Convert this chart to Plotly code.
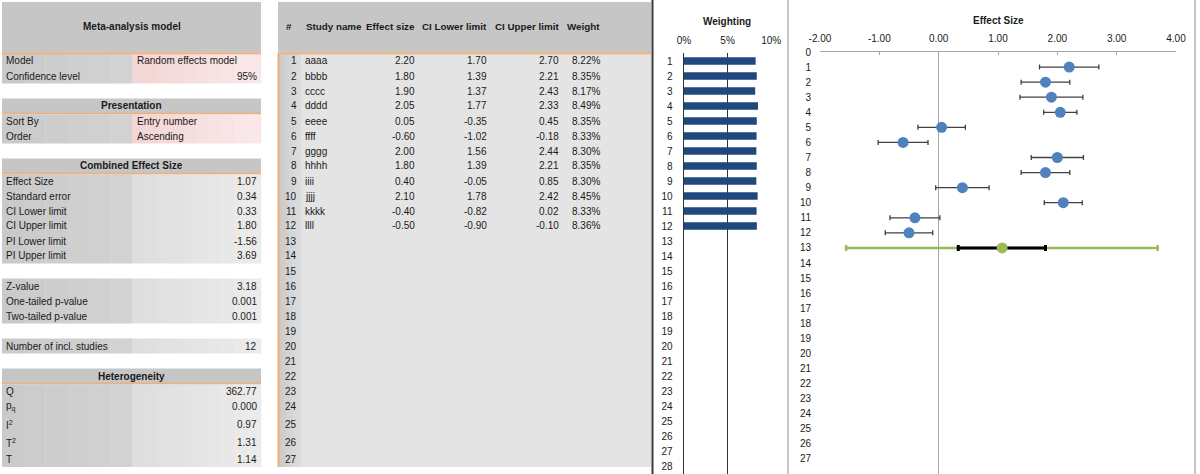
import plotly.graph_objects as go

W, H = 1200, 474

# ---------------- data ----------------
study_ids = list(range(1, 13))
study_names = ["aaaa", "bbbb", "cccc", "dddd", "eeee", "ffff",
               "gggg", "hhhh", "iiii", "jjjj", "kkkk", "llll"]
effect_size = [2.20, 1.80, 1.90, 2.05, 0.05, -0.60, 2.00, 1.80, 0.40, 2.10, -0.40, -0.50]
ci_lower = [1.70, 1.39, 1.37, 1.77, -0.35, -1.02, 1.56, 1.39, -0.05, 1.78, -0.82, -0.90]
ci_upper = [2.70, 2.21, 2.43, 2.33, 0.45, -0.18, 2.44, 2.21, 0.85, 2.42, 0.02, -0.10]
weight_pct = [8.22, 8.35, 8.17, 8.49, 8.35, 8.33, 8.30, 8.35, 8.30, 8.45, 8.33, 8.36]

combined_row = 13
combined_es = 1.07
combined_ci_lower = 0.33
combined_ci_upper = 1.80
combined_pi_lower = -1.56
combined_pi_upper = 3.69

model_labels = ["Model", "Confidence level"]
model_values = ["Random effects model", "95%"]
presentation_labels = ["Sort By", "Order"]
presentation_values = ["Entry number", "Ascending"]
combined_labels = ["Effect Size", "Standard error", "CI Lower limit", "CI Upper limit",
                   "PI Lower limit", "PI Upper limit"]
combined_values = ["1.07", "0.34", "0.33", "1.80", "-1.56", "3.69"]
test_labels = ["Z-value", "One-tailed p-value", "Two-tailed p-value"]
test_values = ["3.18", "0.001", "0.001"]
count_labels = ["Number of incl. studies"]
count_values = ["12"]
het_labels = ["Q", "p<sub>q</sub>", "I<sup>2</sup>", "T<sup>2</sup>", "T"]
het_values = ["362.77", "0.000", "0.97", "1.31", "1.14"]

table_headers = ["#", "Study name", "Effect size", "CI Lower limit", "CI Upper limit", "Weight"]
table_row_numbers = list(range(1, 28))
weight_rows = list(range(1, 29))
forest_rows = list(range(0, 28))
weight_ticks = [0, 0.05, 0.10]
weight_tick_text = ["0%", "5%", "10%"]
effect_ticks = [-2, -1, 0, 1, 2, 3, 4]
effect_tick_text = ["-2.00", "-1.00", "0.00", "1.00", "2.00", "3.00", "4.00"]

# ---------------- helpers ----------------
FONT = "Liberation Sans"
FS = 10
TXT = "#1a1a1a"


def px(x):
    return x / W


def py(y):
    return 1 - y / H


shapes = []
annotations = []


def rect(x0, y0, x1, y1, color):
    shapes.append(dict(type="rect", xref="paper", yref="paper",
                       x0=px(x0), x1=px(x1), y0=py(y1), y1=py(y0),
                       fillcolor=color, line=dict(width=0), layer="below"))


def hex2rgb(c):
    c = c.lstrip("#")
    return tuple(int(c[i:i + 2], 16) for i in (0, 2, 4))


def grad(x0, y0, x1, y1, c0, c1, n=10):
    a, b = hex2rgb(c0), hex2rgb(c1)
    step = (x1 - x0) / n
    for i in range(n):
        t = i / (n - 1) if n > 1 else 0
        col = "rgb(%d,%d,%d)" % tuple(round(a[k] + (b[k] - a[k]) * t) for k in range(3))
        rect(x0 + i * step, y0, x0 + (i + 1) * step + 0.3, y1, col)


def line(x0, y0, x1, y1, color, width):
    shapes.append(dict(type="line", xref="paper", yref="paper",
                       x0=px(x0), x1=px(x1), y0=py(y0), y1=py(y1),
                       line=dict(color=color, width=width), layer="above"))


def text(x, y, s, anchor="left", bold=False, size=FS, color=TXT):
    if bold:
        s = "<b>" + s + "</b>"
    annotations.append(dict(x=px(x), y=py(y), xref="paper", yref="paper",
                            text=s, showarrow=False, xanchor=anchor, yanchor="middle",
                            font=dict(family=FONT, size=size, color=color)))


# spreadsheet row geometry
row_heights = [15] * 24 + [18.5, 18, 17]
row_top = [53.5]
for h in row_heights[:-1]:
    row_top.append(row_top[-1] + h)
row_bottom = [t + h for t, h in zip(row_top, row_heights)]
row_text_y = [b - 7.5 for b in row_bottom]

ORANGE = "#F1B07A"
HEAD = "#c6c6c6"

# ---------------- left panel ----------------
LX0, LX1, LXM = 2, 261, 132

rect(LX0, 2, LX1, 52.5, HEAD)
line(LX0, 53.3, LX1, 53.3, ORANGE, 2)
text((LX0 + LX1) / 2, 27, "Meta-analysis model", "center", bold=True)

sections = [
    (None, 1, model_labels, model_values, "pink", ["left", "right"]),
    ("Presentation", 5, presentation_labels, presentation_values, "pink", ["left", "left"]),
    ("Combined Effect Size", 9, combined_labels, combined_values, "gray", None),
    (None, 16, test_labels, test_values, "gray", None),
    (None, 20, count_labels, count_values, "gray", None),
    ("Heterogeneity", 23, het_labels, het_values, "gray", None),
]

for header, start, labels, values, style, aligns in sections:
    i0 = start - 1
    i1 = i0 + len(labels) - 1
    if header:
        hi = i0 - 1
        rect(LX0, row_top[hi], LX1, row_bottom[hi] - 0.5, HEAD)
        line(LX0, row_bottom[hi], LX1, row_bottom[hi], ORANGE, 1.6)
        text((LX0 + LX1) / 2, row_text_y[hi], header, "center", bold=True)
    top = row_top[i0] + (0.8 if header else 0)
    grad(LX0, top, LXM, row_bottom[i1], "#cacaca", "#d2d2d2", 6)
    if style == "pink":
        grad(LXM, top, LX1, row_bottom[i1], "#f3d6d6", "#fae8e8", 10)
    else:
        grad(LXM, top, LX1, row_bottom[i1], "#dedede", "#ebebeb", 10)
    for k, (lab, val) in enumerate(zip(labels, values)):
        y = row_text_y[i0 + k]
        text(4, y, lab, "left")
        al = aligns[k] if aligns else "right"
        if al == "left":
            text(135, y, val, "left")
        else:
            text(259, y, val, "right")

# ---------------- middle table ----------------
MX0, MX1 = 278, 651
rect(MX0, 2, MX1, 52.5, HEAD)
rect(MX0, 53.5, MX1, row_bottom[-1], "#e4e4e4")
grad(MX0, 53.5, 301, row_bottom[-1], "#cbcbcb", "#dcdcdc", 6)
line(MX0, 53.3, MX1, 53.3, ORANGE, 2)
line(MX0 + 0.5, 53.3, MX0 + 0.5, row_bottom[-1], ORANGE, 2)

header_x = [289, 304, 417, 489, 561, 602]
header_anchor = ["center", "left", "right", "right", "right", "right"]
for hx, ha, ht in zip(header_x, header_anchor, table_headers):
    text(hx, 27, ht, ha, bold=True, size=9.8)

for i, n in enumerate(table_row_numbers):
    text(299, row_text_y[i], str(n), "right")

for i in range(len(study_ids)):
    y = row_text_y[study_ids[i] - 1]
    text(303, y, study_names[i], "left")
    text(417, y, "%.2f" % effect_size[i], "right")
    text(489, y, "%.2f" % ci_lower[i], "right")
    text(561, y, "%.2f" % ci_upper[i], "right")
    text(602, y, "%.2f%%" % weight_pct[i], "right")

# frame lines
line(652.5, 0, 652.5, H, "#3a3a3a", 2)
line(788, 0, 788, H, "#b4b4b4", 1.5)
line(1195, 0, 1195, H, "#b4b4b4", 1.5)

# chart titles
text(727, 21, "Weighting", "center", bold=True)
text(998, 20, "Effect Size", "center", bold=True)

# ---------------- charts ----------------
fig = go.Figure()

fig.add_trace(go.Bar(
    x=[w / 100 for w in weight_pct], y=study_ids, orientation="h",
    marker=dict(color="#1F497D", line=dict(width=0)), width=0.5,
    xaxis="x", yaxis="y", hoverinfo="skip", showlegend=False))

fig.add_trace(go.Scatter(
    x=effect_size, y=study_ids, mode="markers",
    marker=dict(color="#4F81BD", size=11),
    error_x=dict(type="data", symmetric=False,
                 array=[u - e for u, e in zip(ci_upper, effect_size)],
                 arrayminus=[e - l for e, l in zip(effect_size, ci_lower)],
                 color="#404040", thickness=1.3, width=2.5),
    xaxis="x2", yaxis="y2", hoverinfo="skip", showlegend=False))

fig.add_trace(go.Scatter(
    x=[combined_es], y=[combined_row], mode="markers",
    marker=dict(color="#9BBB59", size=1, opacity=0),
    error_x=dict(type="data", symmetric=False,
                 array=[combined_pi_upper - combined_es],
                 arrayminus=[combined_es - combined_pi_lower],
                 color="#9BBB59", thickness=2.5, width=3),
    xaxis="x2", yaxis="y2", hoverinfo="skip", showlegend=False))

fig.add_trace(go.Scatter(
    x=[combined_es], y=[combined_row], mode="markers",
    marker=dict(color="#9BBB59", size=11),
    error_x=dict(type="data", symmetric=False,
                 array=[combined_ci_upper - combined_es],
                 arrayminus=[combined_es - combined_ci_lower],
                 color="#000000", thickness=3, width=3),
    xaxis="x2", yaxis="y2", hoverinfo="skip", showlegend=False))

axis_font = dict(family=FONT, size=FS, color=TXT)

fig.update_layout(
    template="none",
    width=W, height=H, autosize=False,
    margin=dict(l=0, r=0, t=0, b=0, pad=0),
    paper_bgcolor="white", plot_bgcolor="rgba(0,0,0,0)",
    font=dict(family=FONT, size=FS, color=TXT),
    shapes=shapes, annotations=annotations,
    xaxis=dict(domain=[px(684), px(771.5)], range=[0, 0.1004], side="top",
               anchor="y", tickvals=weight_ticks, ticktext=weight_tick_text,
               showgrid=True, gridcolor="#333333", gridwidth=1.5,
               zeroline=False, showline=False, ticks="", tickfont=axis_font,
               ticklabelstandoff=6, automargin=False, fixedrange=True),
    yaxis=dict(domain=[0, py(53)], range=[28.53, 0.467], anchor="x",
               tickvals=weight_rows, ticktext=[str(r) for r in weight_rows],
               showgrid=False, zeroline=False, showline=True,
               linecolor="#333333", linewidth=1.5, ticks="",
               tickfont=axis_font, ticklabelstandoff=8, automargin=False,
               fixedrange=True),
    xaxis2=dict(domain=[px(820), px(1176)], range=[-2, 4], side="top",
                anchor="y2", tickvals=effect_ticks, ticktext=effect_tick_text,
                showgrid=False, zeroline=True, zerolinecolor="#a6a6a6",
                zerolinewidth=1.5, showline=True, linecolor="#a6a6a6",
                linewidth=1.5, ticks="inside", ticklen=3, tickcolor="#a6a6a6",
                tickfont=axis_font, ticklabelstandoff=5, automargin=False,
                fixedrange=True),
    yaxis2=dict(domain=[0, py(52)], range=[28, 0], anchor="x2",
                tickvals=forest_rows, ticktext=[str(r) for r in forest_rows],
                showgrid=False, zeroline=False, showline=False, ticks="",
                tickfont=axis_font, ticklabelstandoff=8, automargin=False,
                fixedrange=True),
)

fig.write_html("out.html",
               config={"displayModeBar": False, "staticPlot": True},
               post_script="document.body.style.margin='0';"
                           "document.body.style.overflow='hidden';")
